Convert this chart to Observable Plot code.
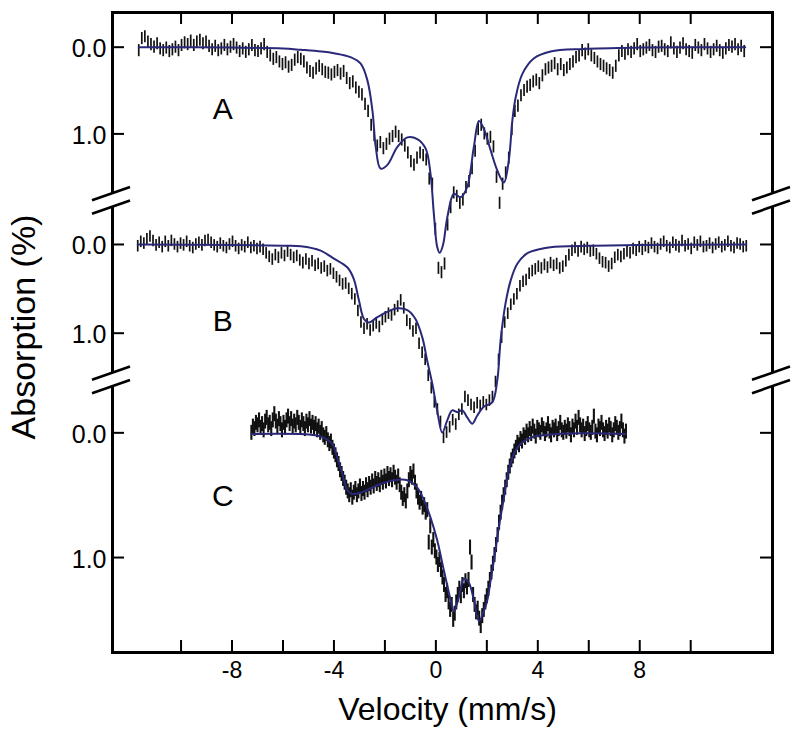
<!DOCTYPE html>
<html><head><meta charset="utf-8">
<script src="https://cdn.jsdelivr.net/npm/d3@7"></script>
<script src="https://cdn.jsdelivr.net/npm/@observablehq/plot@0.6"></script>
<style>body{margin:0;background:#fff}</style>
</head><body><div id="chart"></div>
<script>
// ---------- data ----------
const panelNames = ["A", "B", "C"];
// stacking of the three spectra on one shared (broken) y axis
const panelOffset = [0, 2.275, 4.447];
const panelGain = [1, 1.023, 1.438];
const breakAt = [1.768, 3.838];

// spectrum A: absorption (%) per velocity channel
const vStartA = -11.66, vStepA = 0.12, errA = 0.07;
const absA = [0.04,-0.10,-0.12,-0.06,-0.03,0.00,-0.04,0.02,0.04,0.01,0.05,0.03,0.00,0.04,-0.02,-0.05,-0.03,-0.07,-0.02,-0.06,-0.08,-0.04,-0.06,-0.01,0.03,-0.01,0.04,0.02,-0.02,0.03,0.00,-0.03,0.01,0.05,0.02,0.06,0.03,-0.02,0.04,0.05,0.02,
-0.03,0.06,0.10,0.14,0.12,0.17,0.20,0.18,0.23,0.21,0.15,0.12,0.14,0.17,0.24,0.28,0.30,0.25,0.22,0.26,0.29,0.30,0.32,0.29,0.27,0.31,0.28,0.36,0.42,0.40,0.47,0.52,0.55,0.66,0.74,0.90,1.02,1.14,1.10,1.17,1.12,1.06,1.03,0.98,1.03,1.07,1.14,1.22,1.32,1.36,1.28,1.22,1.25,1.30,1.52,1.58,
2.10,2.55,2.60,2.50,2.05,1.85,1.68,1.72,1.80,1.76,1.62,1.55,1.40,1.20,0.95,0.90,1.00,1.06,1.04,1.15,1.50,1.80,1.58,1.45,1.28,0.95,0.74,0.68,0.56,0.50,0.46,0.44,0.40,0.38,0.42,0.33,0.26,0.24,0.22,0.19,0.26,0.20,0.27,0.24,0.20,0.17,0.12,0.10,0.04,0.08,0.03,0.10,0.13,0.17,0.20,0.22,0.25,0.27,0.30,0.22,0.10,0.05,0.08,0.03,
0.06,0.02,-0.03,0.05,0.03,0.01,-0.02,0.04,0.06,0.00,-0.01,0.03,0.05,-0.05,0.02,0.06,0.01,-0.04,0.03,0.05,0.07,-0.02,0.01,0.04,-0.03,0.02,0.06,0.03,-0.01,0.04,0.07,0.02,-0.02,0.00,-0.03,0.03,-0.01,0.05];
const fitVA = [-11.66,-8,-6,-5.3,-4.5,-4.0,-3.35,-2.95,-2.69,-2.49,-2.36,-2.17,-1.91,-1.51,-1.12,-0.73,-0.40,-0.21,-0.08,0.05,0.15,0.28,0.45,0.71,0.97,1.23,1.49,1.69,1.88,2.15,2.41,2.67,2.86,3.0,3.13,3.39,3.84,4.5,5.8,8,12.14];
const fitYA = [0.0,0.005,0.015,0.03,0.05,0.07,0.115,0.19,0.38,0.73,1.15,1.40,1.36,1.15,1.04,1.06,1.17,1.46,1.92,2.30,2.37,2.28,1.96,1.69,1.73,1.61,1.15,0.85,0.94,1.19,1.42,1.56,1.31,0.85,0.58,0.31,0.13,0.05,0.02,0.005,0.0];

// spectrum B
const vStartB = -11.7, vStepB = 0.12, errB = 0.065;
const absB = [0.02,-0.03,-0.01,-0.06,-0.09,-0.04,0.01,-0.02,0.03,-0.03,0.02,-0.04,0.00,0.03,-0.01,0.01,-0.03,0.02,0.04,0.00,-0.02,0.01,-0.04,-0.05,-0.02,0.01,0.03,-0.01,0.02,0.04,0.00,-0.03,0.02,0.05,0.01,0.03,-0.02,0.04,0.02,0.05,0.03,0.06,
0.10,0.14,0.17,0.12,0.15,0.10,0.13,0.08,0.12,0.15,0.13,
0.18,0.21,0.17,0.22,0.19,0.24,0.22,0.27,0.25,0.30,0.28,0.33,0.37,0.41,0.45,0.44,0.50,0.56,0.62,0.75,0.88,0.95,0.90,0.97,0.92,0.89,0.93,0.85,0.82,0.78,0.80,0.74,0.70,0.63,0.72,0.86,0.90,0.98,0.95,1.12,1.22,1.30,1.48,1.62,1.78,1.86,2.00,2.18,2.12,2.06,1.98,2.03,1.92,1.86,1.72,1.76,1.81,1.84,1.79,1.82,1.78,1.81,1.76,1.72,1.55,1.30,1.05,0.88,0.78,0.68,0.62,0.56,0.47,0.42,0.40,0.33,0.30,0.28,0.25,0.27,0.23,0.26,0.21,0.24,0.22,0.27,0.25,0.19,0.12,0.07,0.04,0.08,0.03,0.06,0.04,0.08,0.07,0.11,0.16,0.20,0.21,0.25,0.22,0.15,0.12,0.14,0.11,0.08,0.10,0.05,0.07,0.03,0.06,0.02,
0.04,-0.01,0.03,0.05,0.00,-0.03,0.02,0.04,-0.02,0.01,0.03,-0.04,0.02,0.00,0.05,-0.02,0.01,-0.03,0.03,0.02,-0.01,0.04,0.00,-0.02,0.03,0.01,-0.03,0.02,0.04,-0.01,0.00,0.03,0.02];
const fitVB = [-11.7,-8,-6,-5.3,-4.52,-4.0,-3.47,-3.22,-3.02,-2.82,-2.63,-2.3,-1.91,-1.51,-1.12,-0.8,-0.53,-0.34,-0.14,0.05,0.25,0.45,0.64,0.84,1.04,1.23,1.43,1.62,1.88,2.21,2.41,2.54,2.73,2.93,3.19,3.58,4.1,4.5,6,8,12.18];
const fitYB = [0.0,0.005,0.015,0.02,0.07,0.16,0.26,0.39,0.63,0.84,0.88,0.82,0.76,0.72,0.74,0.84,1.05,1.31,1.57,1.87,2.12,1.98,1.87,1.89,1.87,1.95,2.02,1.93,1.83,1.78,1.53,1.08,0.67,0.41,0.22,0.10,0.05,0.03,0.015,0.005,0.0];

// spectrum C
const vStartC = -7.24, vStepC = 0.06, errC = 0.06;
const absC = [0.00,-0.05,-0.03,-0.08,-0.06,-0.10,-0.04,-0.07,-0.02,-0.09,-0.12,-0.06,-0.08,-0.03,-0.10,-0.15,-0.09,-0.05,-0.11,-0.07,-0.02,-0.08,-0.04,-0.10,-0.13,-0.07,-0.11,-0.05,-0.09,-0.06,-0.12,-0.08,-0.04,-0.10,-0.07,-0.03,-0.09,-0.06,-0.11,-0.05,-0.08,-0.04,-0.07,-0.02,-0.05,0.00,
-0.03,0.02,0.04,0.01,0.06,0.09,0.07,0.12,0.15,0.18,0.22,0.25,0.30,0.33,0.37,0.40,0.44,0.47,0.50,0.46,0.52,0.48,0.45,0.50,0.47,0.43,0.49,0.45,0.48,0.42,0.46,0.41,0.44,0.39,0.43,0.37,0.41,0.38,0.42,0.36,0.40,0.35,0.39,0.33,0.37,0.34,0.38,0.32,0.36,0.40,0.35,0.42,
0.48,0.53,0.50,0.55,0.47,0.38,0.33,0.36,0.31,0.40,0.47,0.52,0.56,0.53,0.60,0.58,0.64,0.62,0.88,0.75,0.92,0.86,0.95,1.00,1.06,1.02,1.10,1.16,1.22,1.30,1.27,1.36,1.42,1.38,1.50,1.45,1.36,1.30,1.25,1.31,1.22,1.27,1.19,1.24,1.18,0.92,1.04,1.30,1.38,1.44,1.41,1.49,1.55,1.47,1.42,1.36,1.31,1.25,1.18,1.12,1.05,0.98,0.90,0.82,0.72,0.64,0.56,0.50,0.44,0.38,0.32,0.27,0.22,0.19,0.15,0.12,0.08,0.10,0.05,0.07,0.02,0.04,-0.01,
0.02,-0.03,0.01,-0.05,-0.01,0.03,-0.04,-0.02,0.00,-0.06,-0.03,0.01,-0.02,-0.07,-0.01,0.02,-0.04,-0.02,-0.05,0.01,-0.03,-0.08,-0.02,0.00,-0.04,-0.01,-0.06,-0.03,0.02,-0.05,-0.02,-0.09,-0.04,-0.12,-0.06,-0.02,-0.05,0.01,-0.03,-0.07,-0.02,0.00,-0.04,-0.13,-0.01,0.02,-0.05,-0.03,-0.08,-0.02,0.01,-0.04,-0.01,-0.06,-0.03,0.02,-0.02,-0.07,-0.04,0.00,-0.03,-0.09,-0.02,0.03,-0.01];
const fitVC = [-7.24,-4.9,-4.39,-4.06,-3.87,-3.67,-3.47,-3.28,-2.95,-2.3,-1.65,-1.12,-0.73,-0.47,-0.21,0.05,0.31,0.58,0.71,0.9,1.1,1.29,1.49,1.69,1.88,2.02,2.15,2.28,2.47,2.67,2.8,3.06,3.32,3.71,4.37,5.67,7.44];
const fitYC = [0.01,0.016,0.04,0.09,0.20,0.33,0.46,0.49,0.48,0.42,0.38,0.38,0.44,0.54,0.68,0.86,1.10,1.34,1.43,1.32,1.17,1.20,1.34,1.51,1.43,1.34,1.18,1.02,0.76,0.52,0.36,0.17,0.09,0.04,0.016,0.003,0.01];

// ticks and labels
const xTickVals = [-10,-8,-6,-4,-2,0,2,4,6,8,10];
const xLabelVals = [-8,-4,0,4,8];
const yTickVals = [0, 1];
const yTickLabels = ["0.0", "1.0"];
const labelV = -8.36;
const labelAbs = [0.72, 0.87, 0.51];
const barWidth = [1.7, 1.7, 2.1];

// ---------- build ----------
const pos = (k, a) => panelOffset[k] + panelGain[k] * a;
const spectra = [
  {start: vStartA, step: vStepA, err: errA, vals: absA, fv: fitVA, fy: fitYA},
  {start: vStartB, step: vStepB, err: errB, vals: absB, fv: fitVB, fy: fitYB},
  {start: vStartC, step: vStepC, err: errC, vals: absC, fv: fitVC, fy: fitYC}
];
const bars = [], fits = [];
spectra.forEach((s, k) => {
  s.vals.forEach((a, i) => bars.push({v: s.start + i * s.step, lo: pos(k, a - s.err), hi: pos(k, a + s.err), panel: panelNames[k], w: barWidth[k]}));
  s.fv.forEach((v, i) => fits.push({v, y: pos(k, s.fy[i]), panel: panelNames[k]}));
});
const yTicks = [];
panelNames.forEach((n, k) => yTickVals.forEach((t, j) => yTicks.push({pos: pos(k, t), label: yTickLabels[j]})));
const panelLabels = panelNames.map((n, k) => ({v: labelV, y: pos(k, labelAbs[k]), n}));

const W = 800, H = 734, mL = 112, mR = 28, mT = 12, mB = 82;
const innerW = W - mL - mR, innerH = H - mT - mB;
const tickLen = 12;

function breakMarks(index, scales, values, dims) {
  const ns = "http://www.w3.org/2000/svg";
  const g = document.createElementNS(ns, "g");
  const xs = [dims.marginLeft, dims.width - dims.marginRight];
  for (const yb of breakAt) {
    const py = scales.y(yb);
    for (const px of xs) {
      const r = document.createElementNS(ns, "rect");
      r.setAttribute("x", px - 3); r.setAttribute("y", py - 6.5);
      r.setAttribute("width", 6); r.setAttribute("height", 13);
      r.setAttribute("fill", "white");
      g.appendChild(r);
      for (const o of [-6.7, 6.7]) {
        const l = document.createElementNS(ns, "line");
        l.setAttribute("x1", px - 20); l.setAttribute("y1", py + o + 7);
        l.setAttribute("x2", px + 18); l.setAttribute("y2", py + o - 6.3);
        l.setAttribute("stroke", "black"); l.setAttribute("stroke-width", 2.6);
        g.appendChild(l);
      }
    }
  }
  return g;
}

const chart = Plot.plot({
  width: W, height: H,
  marginLeft: mL, marginRight: mR, marginTop: mT, marginBottom: mB,
  style: {fontFamily: "'Liberation Sans', Arial, sans-serif", background: "white", color: "black"},
  x: {domain: [-12.69, 13.21]},
  y: {domain: [-0.40, 6.98], reverse: true, axis: null},
  marks: [
    Plot.ruleX(bars, {x: "v", y1: "lo", y2: "hi", stroke: "#111", strokeWidth: "w"}),
    Plot.line(fits, {x: "v", y: "y", z: "panel", stroke: "#2a2878", strokeWidth: 2, curve: "catmull-rom"}),
    Plot.frame({stroke: "black", strokeWidth: 3}),
    Plot.ruleX(xTickVals, {insetTop: innerH - tickLen, stroke: "black", strokeWidth: 2}),
    Plot.ruleX(xTickVals, {insetBottom: innerH - tickLen, stroke: "black", strokeWidth: 2}),
    Plot.ruleY(yTicks, {y: "pos", insetRight: innerW - tickLen, stroke: "black", strokeWidth: 2}),
    Plot.ruleY(yTicks, {y: "pos", insetLeft: innerW - tickLen, stroke: "black", strokeWidth: 2}),
    breakMarks,
    Plot.axisX({ticks: xLabelVals, tickSize: 0, tickPadding: 9, fontSize: 23, tickFormat: d => String(d), label: null}),
    Plot.text(yTicks, {y: "pos", text: "label", frameAnchor: "left", textAnchor: "end", dx: -6, dy: 2, fontSize: 25}),
    Plot.text(panelLabels, {x: "v", y: "y", text: "n", fontSize: 30}),
    Plot.text(["Absorption (%)"], {text: d => d, frameAnchor: "left", textAnchor: "middle", rotate: -90, lineAnchor: "middle", dx: -88, dy: -5.5, fontSize: 34}),
    Plot.text(["Velocity (mm/s)"], {text: d => d, frameAnchor: "bottom", textAnchor: "middle", lineAnchor: "middle", dx: 5, dy: 57, fontSize: 32})
  ]
});
document.getElementById("chart").appendChild(chart);
</script></body></html>
